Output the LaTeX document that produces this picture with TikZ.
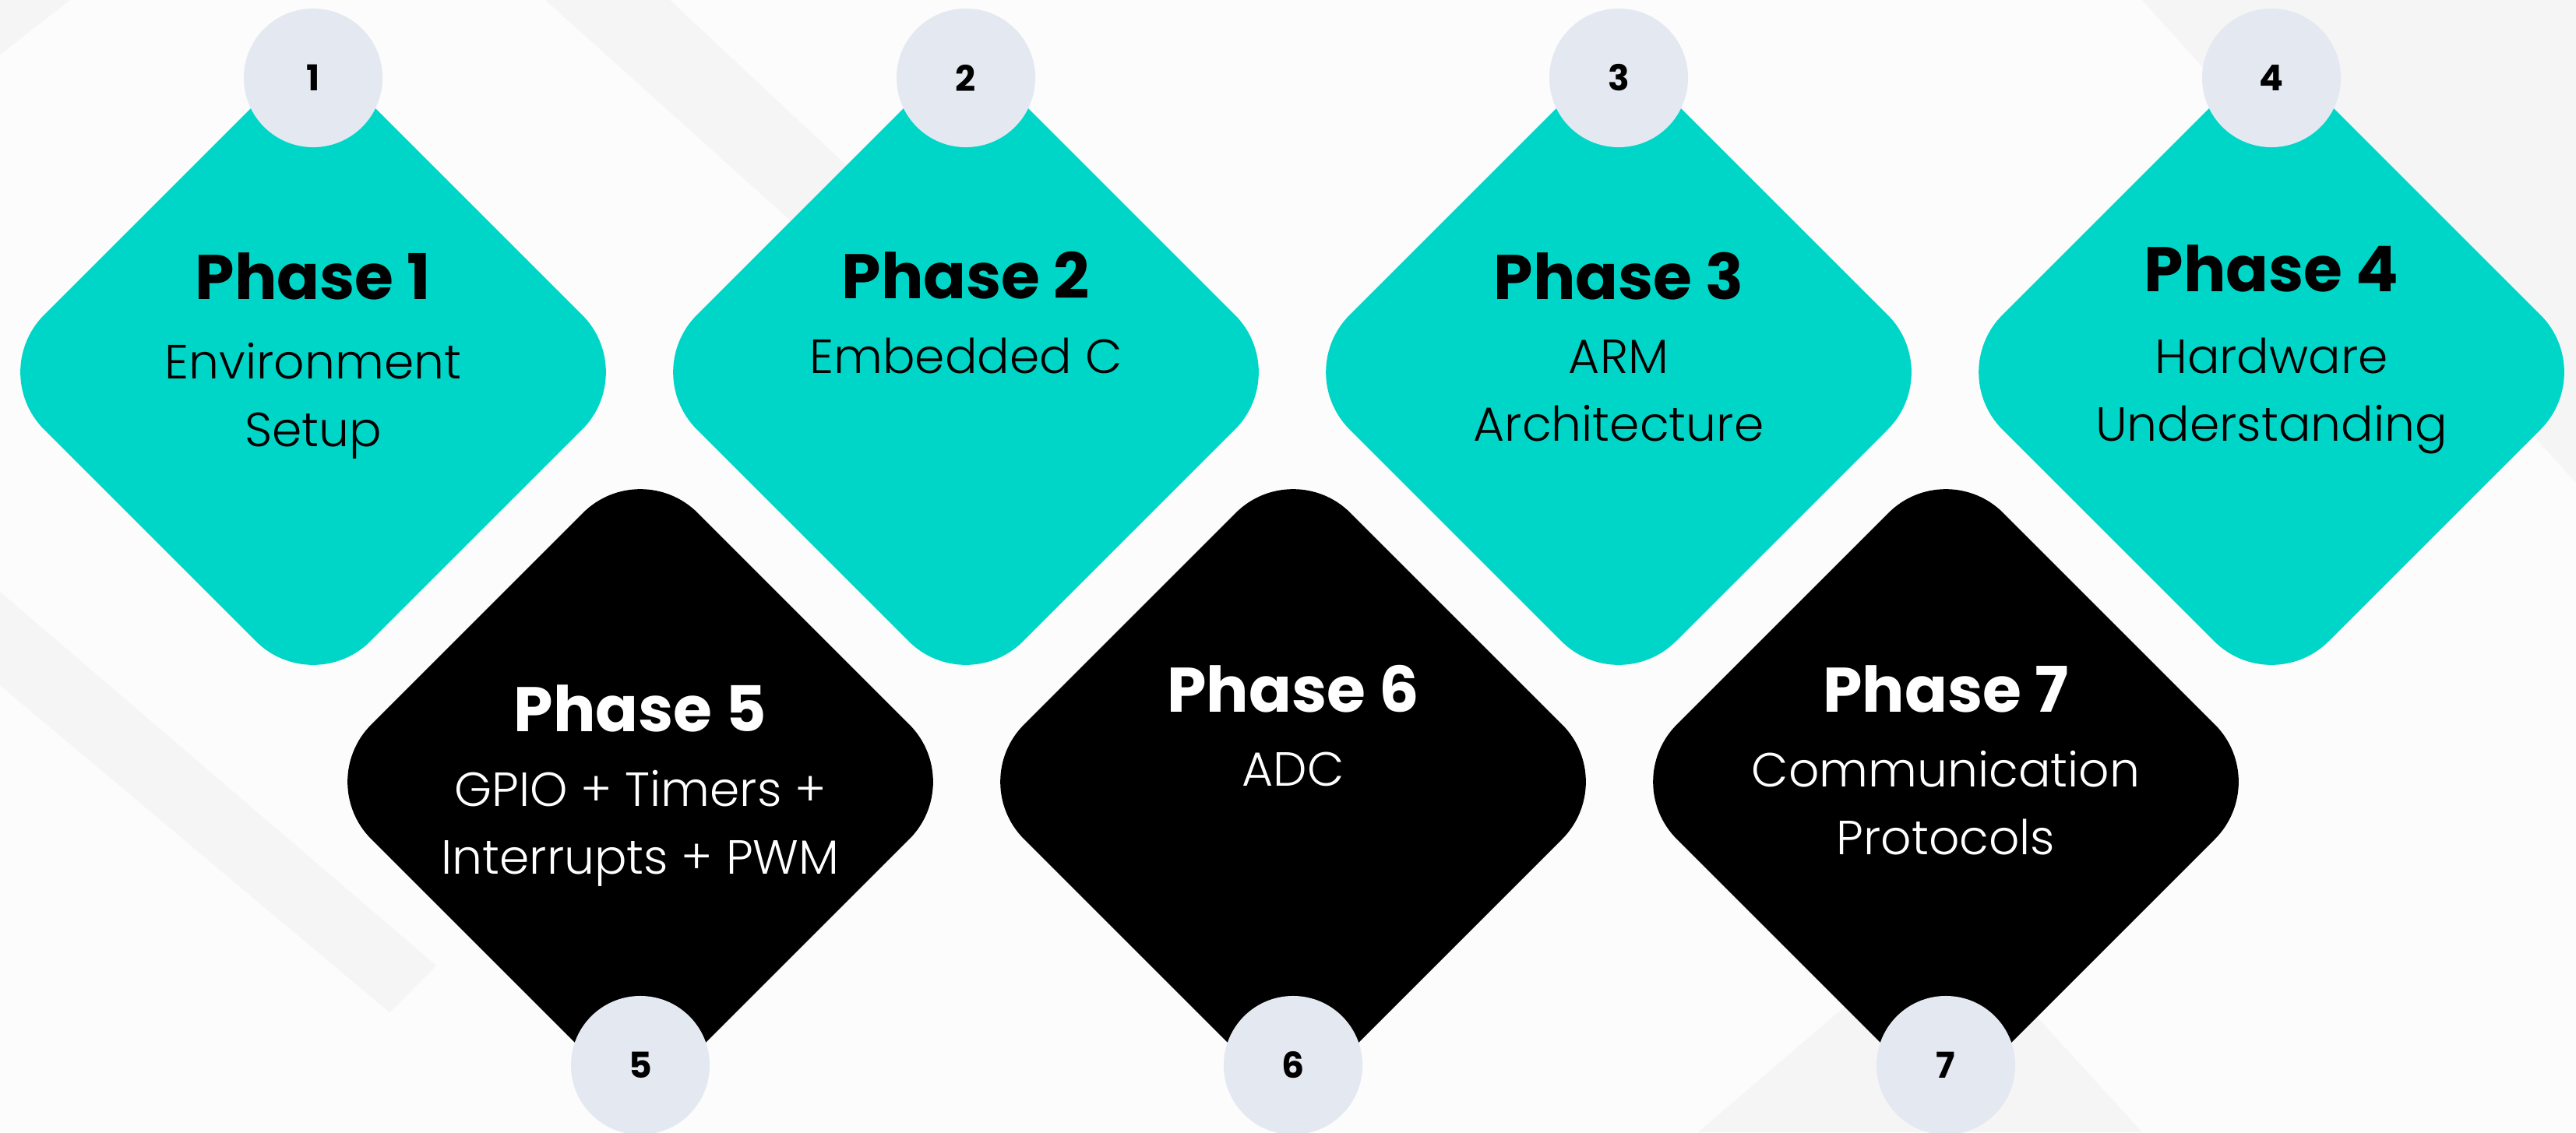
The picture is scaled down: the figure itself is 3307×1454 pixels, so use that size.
\documentclass[tikz,border=0pt]{standalone}
\usepackage{fontspec}
\setmainfont{Poppins}
\newfontfamily\phaselight{Poppins Light}
\usetikzlibrary{shapes.geometric}

\definecolor{phaseteal}{HTML}{00D6C8}
\definecolor{badgegrey}{HTML}{E4E8F1}
\definecolor{pagewhite}{HTML}{FCFCFC}
\definecolor{bandgrey}{HTML}{F5F5F6}

\begin{document}
\begin{tikzpicture}[x=0.01cm, y=-0.01cm,
    tile/.style = {diamond, aspect=1, minimum size=8.38cm, inner sep=0pt, rounded corners=1.04cm},
    tealtile/.style = {tile, fill=phaseteal},
    darktile/.style = {tile, fill=black},
    badge/.style = {circle, fill=badgegrey, minimum size=1.78cm, inner sep=0pt,
        font=\fontsize{13}{13}\selectfont\bfseries},
    title/.style = {anchor=base, inner sep=0pt, font=\fontsize{23}{23}\selectfont\bfseries},
    desc/.style = {anchor=base, align=center, inner sep=0pt,
        font=\phaselight\fontsize{17.5}{24.7}\selectfont}]

    % Page and faint background bands
    \fill[pagewhite] (0,0) rectangle (3307,1454);
    \fill[bandgrey] (0,0) -- (90,0) -- (0,70) -- cycle;
    \fill[bandgrey] (0,760) -- (0,880) -- (500,1300) -- (560,1240) -- cycle;
    \fill[bandgrey] (700,0) -- (860,0) -- (1180,300) -- (1100,360) -- cycle;
    \fill[bandgrey] (2750,0) -- (3307,0) -- (3307,620) -- cycle;
    \fill[bandgrey] (2180,1454) -- (2500,1180) -- (2750,1454) -- cycle;
    \useasboundingbox (0,0) rectangle (3307,1454);

    % Top row
    \node[tealtile] (d1) at (402,478) {};
    \node[tealtile] (d2) at (1240,478) {};
    \node[tealtile] (d3) at (2078,478) {};
    \node[tealtile] (d4) at (2916,478) {};

    % Bottom row
    \node[darktile] (d5) at (822,1004) {};
    \node[darktile] (d6) at (1660,1004) {};
    \node[darktile] (d7) at (2498,1004) {};

    % Number badges
    \node[badge] (n1) at (402,100) {1};
    \node[badge] (n2) at (1240,100) {2};
    \node[badge] (n3) at (2078,100) {3};
    \node[badge] (n4) at (2916,100) {4};
    \node[badge] (n5) at (822,1368) {5};
    \node[badge] (n6) at (1660,1368) {6};
    \node[badge] (n7) at (2498,1368) {7};

    % Titles
    \node[title] (t1) at (402,384) {Phase 1};
    \node[title] (t2) at (1240,383) {Phase 2};
    \node[title] (t3) at (2078,384) {Phase 3};
    \node[title] (t4) at (2916,374) {Phase 4};
    \node[title, text=white] (t5) at (822,939) {Phase 5};
    \node[title, text=white] (t6) at (1660,914) {Phase 6};
    \node[title, text=white] (t7) at (2498,914) {Phase 7};

    % Descriptions (base = last line)
    \node[desc] (s1) at (402,573) {Environment\\Setup};
    \node[desc] (s2) at (1240,479) {Embedded C};
    \node[desc] (s3) at (2078,566) {ARM\\Architecture};
    \node[desc] (s4) at (2916,566) {Hardware\\Understanding};
    \node[desc, text=white] (s5) at (822,1122) {GPIO + Timers +\\Interrupts + PWM};
    \node[desc, text=white] (s6) at (1660,1009) {ADC};
    \node[desc, text=white] (s7) at (2498,1097) {Communication\\Protocols};

\end{tikzpicture}
\end{document}
